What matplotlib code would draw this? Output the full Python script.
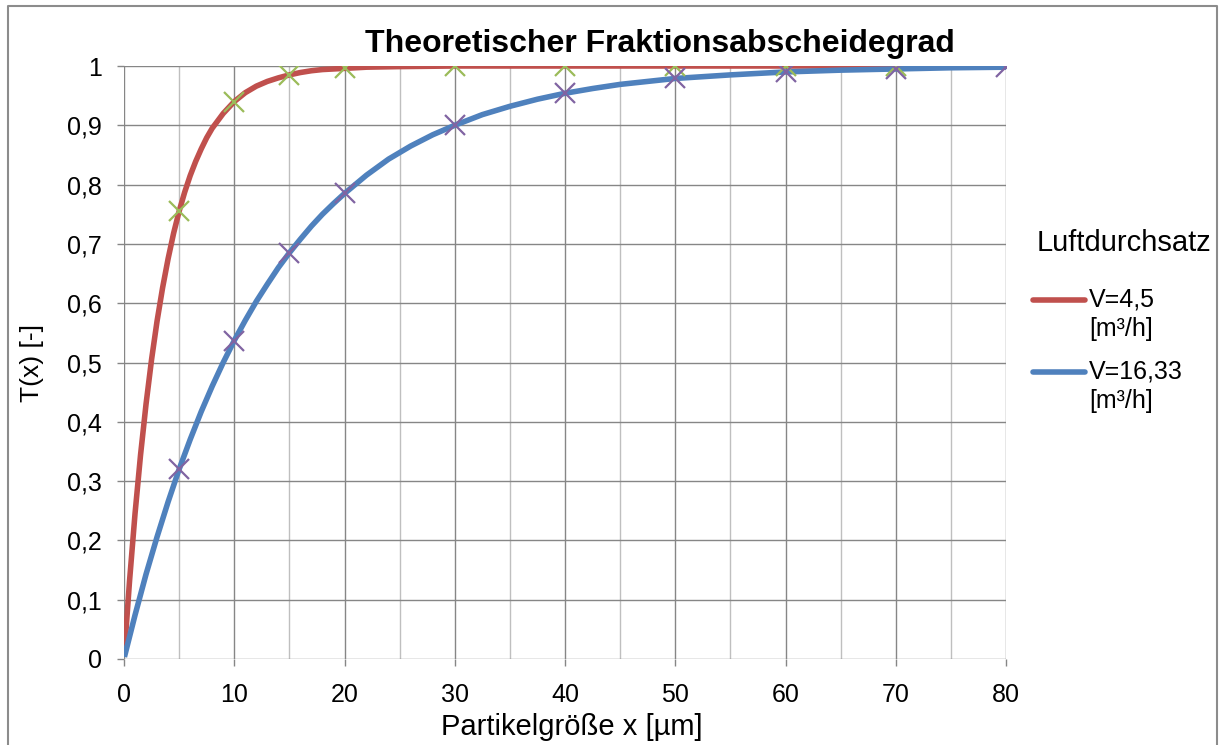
import matplotlib

matplotlib.use('Agg')

import matplotlib.pyplot as plt
from matplotlib.lines import Line2D

plt.rcParams['font.family'] = ['Liberation Sans', 'DejaVu Sans']

# Kurvenpunkte (Linie)
x_line_a = [0.1, 0.5, 1, 1.5, 2, 2.5, 3, 3.5, 4, 4.5, 5, 5.5, 6, 6.5, 7, 7.5, 8, 9, 10,
            11, 12, 13, 14, 15, 16, 17, 18, 20, 22, 25, 30, 40, 50, 60, 70, 80]
t_line_a = [0.027, 0.131, 0.245, 0.344, 0.43, 0.505, 0.57, 0.626, 0.675, 0.718, 0.755,
            0.787, 0.815, 0.839, 0.86, 0.879, 0.895, 0.92, 0.94, 0.955, 0.966, 0.974,
            0.98, 0.985, 0.989, 0.992, 0.994, 0.996, 0.998, 0.999, 1.0, 1.0, 1.0, 1.0,
            1.0, 1.0]
x_line_b = [0.1, 1, 2, 3, 4, 5, 6, 7, 8, 9, 10, 11, 12, 13, 14, 15, 16, 17, 18, 19, 20,
            22, 24, 26, 28, 30, 32.5, 35, 37.5, 40, 42.5, 45, 47.5, 50, 55, 60, 65, 70,
            75, 80]
t_line_b = [0.008, 0.074, 0.143, 0.206, 0.265, 0.32, 0.37, 0.417, 0.46, 0.5, 0.537,
            0.571, 0.603, 0.632, 0.66, 0.685, 0.708, 0.73, 0.75, 0.768, 0.785, 0.816,
            0.843, 0.865, 0.884, 0.90, 0.918, 0.932, 0.944, 0.954, 0.962, 0.969, 0.974,
            0.979, 0.985, 0.99, 0.993, 0.995, 0.997, 0.998]

# Messpunkte (Kreuze)
x_pts_a = [5, 10, 15, 20, 30, 40, 50, 60, 70]
t_pts_a = [0.755, 0.94, 0.985, 0.997, 1.0, 1.0, 1.0, 1.0, 1.0]
x_pts_b = [5, 10, 15, 20, 30, 40, 50, 60, 70, 80]
t_pts_b = [0.32, 0.537, 0.685, 0.785, 0.90, 0.954, 0.979, 0.99, 0.995, 0.998]

labels = ['V=4,5\n[m³/h]', 'V=16,33\n[m³/h]']
x_ticks = [0, 10, 20, 30, 40, 50, 60, 70, 80]
y_ticks = [0, 0.1, 0.2, 0.3, 0.4, 0.5, 0.6, 0.7, 0.8, 0.9, 1]

red = '#C0504D'
blue = '#4F81BD'
green = '#9BBB59'
purple = '#8064A2'
grid_major = '#868686'
grid_minor = '#BFBFBF'

W, H = 1222, 745
fig = plt.figure(figsize=(W / 100, H / 100), dpi=100)
ax = fig.add_axes([124 / W, 1 - 659 / H, (1006 - 124) / W, (659 - 66) / H])

# Gitter
for xv in range(5, 80, 10):
    ax.axvline(xv, color=grid_minor, lw=1.0, zorder=1)
for xv in x_ticks:
    ax.axvline(xv, color=grid_major, lw=1.0, zorder=1.5)
for yv in y_ticks:
    ax.axhline(yv, color=grid_major, lw=1.0, zorder=1.5)

ax.plot(x_line_a, t_line_a, color=red, lw=4, zorder=3)
ax.plot(x_line_b, t_line_b, color=blue, lw=4, zorder=3)
ax.plot(x_pts_a, t_pts_a, 'x', color=green, ms=14, mew=1.6, zorder=4)
ax.plot(x_pts_b, t_pts_b, 'x', color=purple, ms=14, mew=1.6, zorder=5)

ax.set_xlim(0, 80)
ax.set_ylim(0, 1)
ax.set_xticks(x_ticks)
ax.set_xticklabels([str(v) for v in x_ticks], fontsize=18)
ax.set_yticks(y_ticks)
ax.set_yticklabels([('%g' % v).replace('.', ',') for v in y_ticks], fontsize=18)
ax.tick_params(axis='x', length=5, width=1, color=grid_major, pad=12)
ax.tick_params(axis='y', length=5, width=1, color=grid_major, pad=11)
for s in ax.spines.values():
    s.set_visible(False)
ax.patch.set_visible(False)

fig.text(660 / W, 1 - 44 / H, 'Theoretischer Fraktionsabscheidegrad',
         ha='center', va='center', fontsize=23, fontweight='bold')
fig.text(572 / W, 1 - 727 / H, 'Partikelgröße x [µm]', ha='center', va='center',
         fontsize=21)
fig.text(32 / W, 1 - 363 / H, 'T(x) [-]', ha='center', va='center', rotation=90,
         fontsize=19)

# Legende
fig.text(1124 / W, 1 - 243 / H, 'Luftdurchsatz', ha='center', va='center', fontsize=21)
for i, (lab, col) in enumerate(zip(labels, [red, blue])):
    yl = 300 + i * 72
    fig.add_artist(Line2D([1033 / W, 1085 / W], [1 - yl / H, 1 - yl / H],
                          color=col, lw=4, solid_capstyle='round'))
    fig.text(1089 / W, 1 - (yl - 12) / H, lab, ha='left', va='top', fontsize=18,
             linespacing=1.25)

# Rahmen
fx = [8 / W, 8 / W, 1217 / W, 1217 / W]
fy = [0, 1 - 6 / H, 1 - 6 / H, 0]
fig.add_artist(Line2D(fx, fy, color='#8C8C8C', lw=1.5))

fig.savefig('out.png', dpi=100)
